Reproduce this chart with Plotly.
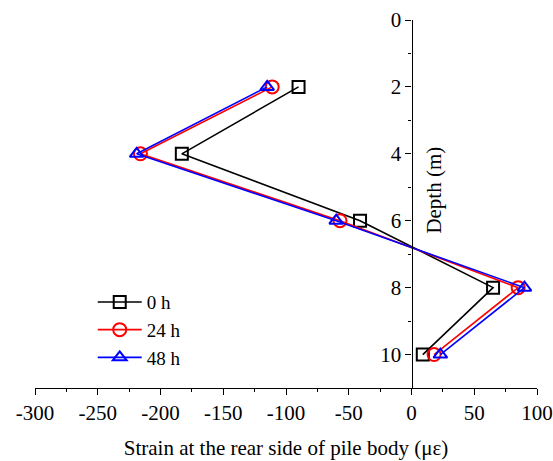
import plotly.graph_objects as go

depth = [2, 4, 6, 8, 10]
strain_0h = [-90, -183, -41, 65, 9]
strain_24h = [-111, -216, -57, 85, 18]
strain_48h = [-115, -219, -60, 90, 23]

x_tickvals = [-300, -250, -200, -150, -100, -50, 0, 50, 100]
x_ticktext = ["-300", "-250", "-200", "-150", "-100", "-50", "0", "50", "100"]
y_tickvals = [0, 2, 4, 6, 8, 10]

FONT = "Liberation Serif, Times New Roman, serif"
TF = dict(family=FONT, size=21, color="black")
LF = dict(family=FONT, size=19, color="black")
TTF = dict(family=FONT, size=21, color="black")

fig = go.Figure()
series = [
    ("0 h", strain_0h, "black", "square-open", 12),
    ("24 h", strain_24h, "red", "circle-open", 13),
    ("48 h", strain_48h, "blue", "triangle-up-open", 12),
]
for name, vals, col, sym, sz in series:
    fig.add_trace(go.Scatter(
        x=vals, y=depth, name=name, mode="lines+markers",
        line=dict(color=col, width=1.6),
        marker=dict(symbol=sym, size=sz, color=col, line=dict(color=col, width=2)),
    ))

fig.update_layout(
    width=553, height=461,
    margin=dict(l=35, r=16, t=20, b=73, autoexpand=False),
    paper_bgcolor="white", plot_bgcolor="white",
    font=LF,
    showlegend=True,
    legend=dict(x=0.115, y=0.285, xanchor="left", yanchor="top",
                bgcolor="rgba(0,0,0,0)", font=LF, itemwidth=44,
                tracegroupgap=0),
    xaxis=dict(
        range=[-300, 100], tickvals=x_tickvals, ticktext=x_ticktext, tickfont=TF,
        showgrid=False, zeroline=False, showline=True, linecolor="black", linewidth=1.2,
        ticks="outside", ticklen=6, tickwidth=1.2, tickcolor="black", automargin=False,
        minor=dict(dtick=25, tick0=0, ticks="outside", ticklen=3, tickwidth=1.2, tickcolor="black"),
        title=dict(text="Strain at the rear side of pile body (με)", font=TTF, standoff=16),
        anchor="y",
    ),
    yaxis=dict(
        range=[11, 0], tickvals=y_tickvals, tickfont=TF,
        showgrid=False, zeroline=False, showline=True, linecolor="black", linewidth=1.2,
        ticks="outside", ticklen=6, tickwidth=1.2, tickcolor="black", automargin=False,
        minor=dict(dtick=1, tick0=0, ticks="outside", ticklen=3, tickwidth=1.2, tickcolor="black"),
        anchor="free", position=0.75, side="left",
    ),
    annotations=[dict(
        text="Depth (m)", textangle=-90, xref="paper", yref="y",
        x=(434 - 35) / 502, y=5.1, showarrow=False, font=TTF,
        xanchor="center", yanchor="middle",
    )],
)

fig.write_html(
    "out.html",
    config={"displayModeBar": False},
    post_script="document.body.style.margin='0';document.body.style.overflow='hidden';",
)
